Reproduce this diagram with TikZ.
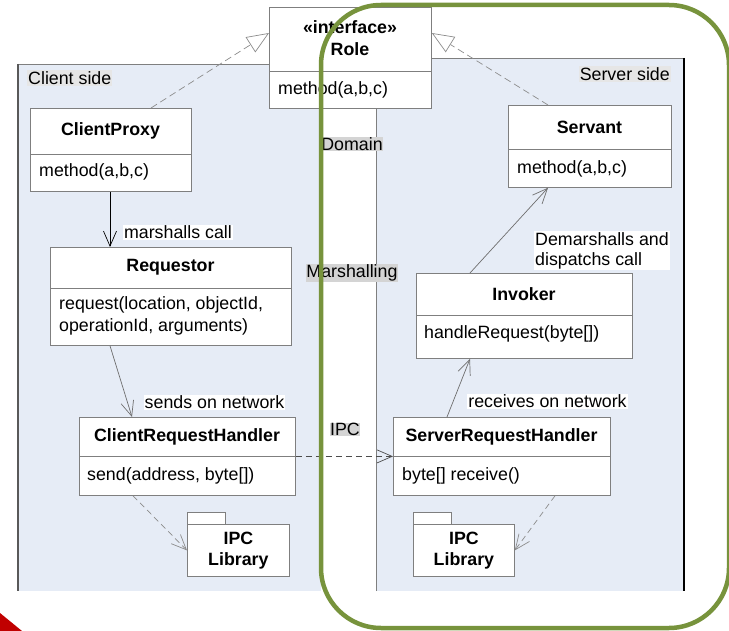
\documentclass[tikz,border=0pt]{standalone}
\usepackage{fontspec}
\setmainfont{Liberation Sans}
\usetikzlibrary{arrows.meta,calc}
\definecolor{panelblue}{HTML}{E6ECF6}
\definecolor{boxline}{HTML}{7F7F7F}
\definecolor{tagfill}{HTML}{D4D4D4}
\definecolor{sidefill}{HTML}{E6E6E6}
\definecolor{linkgray}{HTML}{6E6E6E}
\definecolor{dashgray}{HTML}{8C8C8C}
\definecolor{olive}{HTML}{77933C}
\definecolor{wedge}{HTML}{C00000}

\begin{document}
\begin{tikzpicture}[x=1pt,y=-1pt,
  font=\fontsize{17.8}{21.5}\selectfont,
  classbox/.style={draw=boxline, fill=white, line width=0.8pt, inner sep=0pt, anchor=north west},
  divider/.style={draw=boxline, line width=0.8pt},
  titletext/.style={font=\fontsize{17.8}{21.5}\selectfont\bfseries, inner sep=0pt, align=center},
  bodytext/.style={inner sep=0pt, anchor=west, align=left},
  tag/.style={fill=tagfill, inner sep=0.5pt},
  edgelabel/.style={fill=white, inner sep=1pt},
  call/.style={line width=0.7pt, -{Straight Barb[length=15pt, width=13pt]}},
  dep/.style={draw=dashgray, line width=0.7pt, dash pattern=on 6pt off 4pt, -{Straight Barb[length=15pt, width=13pt]}},
  realize/.style={draw=dashgray, line width=0.7pt, dash pattern=on 7pt off 4pt, -{Triangle[open, fill=white, length=22pt, width=18pt]}},
]
\useasboundingbox (0,0) rectangle (729,631);

% the two sides of the system
\fill[panelblue] (18,64) rectangle (321,591);
\fill[panelblue] (376,58) rectangle (684,591);
\draw[boxline, line width=0.8pt] (18,64) -- (321,64);
\draw[black!65, line width=2.2pt] (18,64) -- (18,591);
\draw[boxline, line width=0.8pt] (376,591) -- (376,58) -- (684,58);
\draw[black, line width=1.8pt] (684,58) -- (684,591);

\node[fill=sidefill, inner sep=1pt, anchor=west] (clientside) at (27,78) {Client side};
\node[fill=sidefill, inner sep=1pt, anchor=east] (serverside) at (671,74) {Server side};

% layer names in the middle strip
\node[tag] (domain) at (352,144) {Domain};
\node[tag] (marshalling) at (352,273) {Marshalling};
\node[tag] (ipc) at (345,429.5) {IPC};

% interface Role
\node[classbox, minimum width=162pt, minimum height=101pt] (role) at (269,7) {};
\draw[divider] (269,71) -- (431,71);
\node[titletext] (roletitle) at (350,38) {«interface»\\Role};
\node[bodytext] (rolemethod) at (278,89.5) {method(a,b,c)};

% ClientProxy
\node[classbox, minimum width=161pt, minimum height=83pt] (cp) at (30,108) {};
\draw[divider] (30,154) -- (191,154);
\node[titletext] (cptitle) at (110.5,131) {ClientProxy};
\node[bodytext] (cpmethod) at (39,172) {method(a,b,c)};

% Requestor
\node[classbox, minimum width=241pt, minimum height=98pt] (req) at (50,247) {};
\draw[divider] (50,288) -- (291,288);
\node[titletext] (reqtitle) at (170.5,267) {Requestor};
\node[bodytext] (reqmethod) at (59,316) {request(location, objectId,\\operationId, arguments)};

% ClientRequestHandler
\node[classbox, minimum width=216pt, minimum height=78pt] (crh) at (79,417) {};
\draw[divider] (79,456) -- (295,456);
\node[titletext] (crhtitle) at (187,437) {ClientRequestHandler};
\node[bodytext] (crhmethod) at (87,476) {send(address, byte[])};

% IPC library, client side
\node[classbox, minimum width=102pt, minimum height=52pt] (pkc) at (187,524) {};
\draw[classbox] (pkc.north west) rectangle ++(38,-12);
\node[titletext] (pkctext) at (pkc.center) {IPC\\Library};

% Servant
\node[classbox, minimum width=163pt, minimum height=82pt] (sv) at (508,105) {};
\draw[divider] (508,149) -- (671,149);
\node[titletext] (svtitle) at (589.5,127) {Servant};
\node[bodytext] (svmethod) at (517,169) {method(a,b,c)};

% Invoker
\node[classbox, minimum width=216pt, minimum height=85pt] (inv) at (416,273) {};
\draw[divider] (416,315) -- (632,315);
\node[titletext] (invtitle) at (524,294) {Invoker};
\node[bodytext] (invmethod) at (424,334) {handleRequest(byte[])};

% ServerRequestHandler
\node[classbox, minimum width=217pt, minimum height=78pt] (srh) at (393,417) {};
\draw[divider] (393,456) -- (610,456);
\node[titletext] (srhtitle) at (501.5,437) {ServerRequestHandler};
\node[bodytext] (srhmethod) at (402,476) {byte[] receive()};

% IPC library, server side
\node[classbox, minimum width=101pt, minimum height=52pt] (pks) at (413,524) {};
\draw[classbox] (pks.north west) rectangle ++(38,-12);
\node[titletext] (pkstext) at (pks.center) {IPC\\Library};

% realizations of Role
\draw[realize] ($(cp.north west)+(121,0)$) -- ($(role.north west)+(0,26)$);
\draw[realize] ($(sv.north west)+(40,0)$) -- ($(role.north east)+(0,26)$);

% call chain
\draw[call, black] (cp.south -| 110,0) -- (req.north -| 110,0);
\draw[call, linkgray] ($(req.south west)+(60,0)$) -- ($(crh.north west)+(53,0)$);
\draw[dep, draw=black!70] (crh.east) -- (srh.west);
\draw[dep] ($(crh.south west)+(54,0)$) -- (pkc.west);
\draw[call, linkgray] ($(srh.north west)+(54,0)$) -- ($(inv.south west)+(54,0)$);
\draw[call, linkgray] ($(inv.north west)+(54,0)$) -- ($(sv.south west)+(40,0)$);
\draw[dep] ($(srh.south west)+(162,0)$) -- (pks.east);

% connector labels
\node[edgelabel] (lmarshal) at (178,232.5) {marshalls call};
\node[edgelabel] (lsend) at (214.5,402.5) {sends on network};
\node[edgelabel, anchor=north west, align=left, font=\fontsize{17.8}{20.5}\selectfont] (ldemarshal) at (534,231) {Demarshalls and\\dispatchs call};
\node[edgelabel] (lreceive) at (547.5,401.5) {receives on network};

% highlight frame around the server side
\draw[olive, line width=4.5pt, rounded corners=60pt] (321,5) rectangle (729,628);

% corner wedge
\fill[wedge] (0,613) -- (22,631) -- (0,631) -- cycle;
\end{tikzpicture}
\end{document}
